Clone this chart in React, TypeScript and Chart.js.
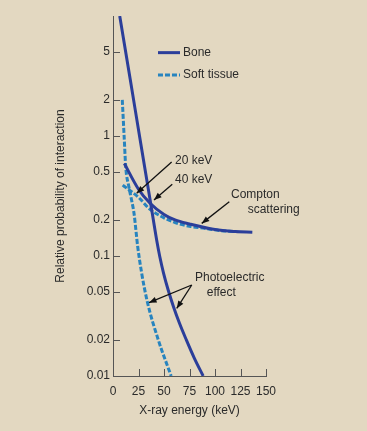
import React, { useEffect, useRef } from "react";
import { Chart, registerables } from "chart.js";
Chart.register(...registerables);

// ---- data ----
const boneEnergy = [6.6, 16.8, 26.0, 36.2, 42.8, 45.9, 49.6, 54.1, 59.3, 65.2, 71.9, 79.7, 88.4];
const bonePhoto = [10, 3, 1, 0.3, 0.136, 0.0986, 0.0718, 0.0521, 0.0378, 0.0275, 0.02, 0.0141, 0.01];
const softEnergy = [9.1, 10.9, 12.5, 15.5, 18.3, 20.6, 24.2, 28.1, 33.8, 44.4, 57.0];
const softPhoto = [2, 1, 0.55, 0.38, 0.29, 0.227, 0.12, 0.072, 0.041, 0.02, 0.01];
const boneComptonEnergy = [11.1, 25, 36.3, 50, 60.8, 75, 100, 120, 136.6];
const boneCompton = [0.59, 0.36, 0.275, 0.222, 0.2, 0.185, 0.166, 0.16, 0.158];
const softComptonEnergy = [9.5, 25, 36.3, 50, 60.8, 75, 90, 105, 118];
const softCompton = [0.39, 0.308, 0.245, 0.208, 0.19, 0.177, 0.17, 0.163, 0.16];

const yTickValues = [0.01, 0.02, 0.05, 0.1, 0.2, 0.5, 1, 2, 5];
const xTickValues = [0, 25, 50, 75, 100, 125, 150];
const seriesNames = ["Bone", "Soft tissue"];
const xTitle = "X-ray energy (keV)";
const yTitle = "Relative probability of interaction";
const annotationTexts = ["20 keV", "40 keV", "Compton", "scattering", "Photoelectric", "effect"];

// ---- styles ----
const BG = "#e3d8c1";
const BONE = "#2b3e9a";
const SOFT = "#2784bf";
const TEXT = "#2a2a2a";
const AXIS = "#555";
const FONT = "'Liberation Sans', Arial, Helvetica, sans-serif";

// annotation placements in data coordinates [energy, value]
const textPlacements: { e: number; v: number; align: CanvasTextAlign }[] = [
  { e: 60.8, v: 0.622, align: "left" },
  { e: 60.8, v: 0.435, align: "left" },
  { e: 115.7, v: 0.322, align: "left" },
  { e: 183, v: 0.245, align: "right" },
  { e: 80.4, v: 0.0665, align: "left" },
  { e: 91.9, v: 0.0498, align: "left" },
];
const arrowPlacements = [
  [57.5, 0.607, 23.2, 0.333],
  [58.1, 0.396, 40.2, 0.293],
  [114, 0.2835, 87, 0.187],
  [77.2, 0.0573, 35.3, 0.0408],
  [77.2, 0.0573, 62.5, 0.0366],
];
const legendPlacements = [
  { e1: 44.1, e2: 65.7, et: 68.6, v: 4.95 },
  { e1: 44.1, e2: 65.7, et: 68.6, v: 3.22 },
];

function toXY(e: number[], v: number[]) {
  return e.map((x, i) => ({ x, y: v[i] }));
}

function drawArrow(ctx: CanvasRenderingContext2D, x1: number, y1: number, x2: number, y2: number) {
  ctx.beginPath();
  ctx.moveTo(x1, y1);
  ctx.lineTo(x2, y2);
  ctx.stroke();
  const a = Math.atan2(y2 - y1, x2 - x1);
  const L = 7.5, W = 3;
  ctx.beginPath();
  ctx.moveTo(x2, y2);
  ctx.lineTo(x2 - L * Math.cos(a) + W * Math.sin(a), y2 - L * Math.sin(a) - W * Math.cos(a));
  ctx.lineTo(x2 - L * Math.cos(a) - W * Math.sin(a), y2 - L * Math.sin(a) + W * Math.cos(a));
  ctx.closePath();
  ctx.fill();
}

const bgPlugin = {
  id: "bg",
  beforeDraw(chart: any) {
    const { ctx, width, height } = chart;
    ctx.save();
    ctx.fillStyle = BG;
    ctx.fillRect(0, 0, width, height);
    ctx.restore();
  },
};

const overlayPlugin = {
  id: "overlay",
  afterDraw(chart: any) {
    const { ctx, chartArea } = chart;
    const xs = chart.scales.x;
    const ys = chart.scales.y;
    ctx.save();
    // inward tick marks
    ctx.strokeStyle = AXIS;
    ctx.lineWidth = 1;
    ctx.beginPath();
    yTickValues.forEach((v) => {
      const y = Math.round(ys.getPixelForValue(v)) + 0.5;
      ctx.moveTo(chartArea.left, y);
      ctx.lineTo(chartArea.left + 7, y);
    });
    xTickValues.forEach((v) => {
      const x = Math.round(xs.getPixelForValue(v)) + 0.5;
      ctx.moveTo(x, chartArea.bottom);
      ctx.lineTo(x, chartArea.bottom - 7);
    });
    ctx.stroke();

    // legend
    ctx.font = `12px ${FONT}`;
    ctx.textBaseline = "middle";
    ctx.textAlign = "left";
    legendPlacements.forEach((p, i) => {
      const y = ys.getPixelForValue(p.v);
      ctx.beginPath();
      ctx.strokeStyle = i === 0 ? BONE : SOFT;
      ctx.lineWidth = 3;
      ctx.setLineDash(i === 0 ? [] : [5, 2]);
      ctx.moveTo(xs.getPixelForValue(p.e1), y);
      ctx.lineTo(xs.getPixelForValue(p.e2), y);
      ctx.stroke();
      ctx.setLineDash([]);
      ctx.fillStyle = TEXT;
      ctx.fillText(seriesNames[i], xs.getPixelForValue(p.et), y);
    });

    // annotation texts
    ctx.fillStyle = TEXT;
    textPlacements.forEach((p, i) => {
      ctx.textAlign = p.align;
      ctx.fillText(annotationTexts[i], xs.getPixelForValue(p.e), ys.getPixelForValue(p.v));
    });

    // arrows
    ctx.strokeStyle = "#111";
    ctx.fillStyle = "#111";
    ctx.lineWidth = 1.3;
    arrowPlacements.forEach((a) => {
      drawArrow(
        ctx,
        xs.getPixelForValue(a[0]),
        ys.getPixelForValue(a[1]),
        xs.getPixelForValue(a[2]),
        ys.getPixelForValue(a[3])
      );
    });
    ctx.restore();
  },
};

export default function App() {
  const ref = useRef<HTMLCanvasElement | null>(null);
  useEffect(() => {
    document.body.style.margin = "0";
    document.body.style.background = BG;
    if (!ref.current) return;
    Chart.defaults.font.family = FONT;
    const lineBase = {
      pointRadius: 0,
      borderWidth: 3,
      fill: false,
      cubicInterpolationMode: "monotone" as const,
    };
    const chart = new Chart(ref.current, {
      type: "line",
      data: {
        datasets: [
          { ...lineBase, label: "Bone photoelectric", data: toXY(boneEnergy, bonePhoto), borderColor: BONE },
          { ...lineBase, label: "Bone Compton", data: toXY(boneComptonEnergy, boneCompton), borderColor: BONE },
          { ...lineBase, label: "Soft photoelectric", data: toXY(softEnergy, softPhoto), borderColor: SOFT, borderDash: [5, 2] },
          { ...lineBase, label: "Soft Compton", data: toXY(softComptonEnergy, softCompton), borderColor: SOFT, borderDash: [5, 2] },
        ],
      },
      options: {
        animation: false,
        responsive: false,
        events: [],
        layout: { padding: { top: 16, right: 101, left: 0, bottom: 0 } },
        plugins: { legend: { display: false }, tooltip: { enabled: false } },
        scales: {
          x: {
            type: "linear",
            min: 0,
            max: 150,
            afterBuildTicks: (s: any) => {
              s.ticks = xTickValues.map((v) => ({ value: v }));
            },
            afterFit: (s: any) => {
              s.height = 55;
            },
            ticks: { color: TEXT, font: { size: 12 }, padding: 8, autoSkip: false, maxRotation: 0 },
            grid: { display: true, drawOnChartArea: false, drawTicks: false },
            border: { display: true, color: AXIS, width: 1 },
            title: { display: true, text: xTitle, color: TEXT, font: { size: 12 }, padding: { top: 0, bottom: 12.8 } },
          },
          y: {
            type: "logarithmic",
            min: 0.01,
            max: 10,
            afterBuildTicks: (s: any) => {
              s.ticks = yTickValues.map((v) => ({ value: v }));
            },
            afterFit: (s: any) => {
              s.width = 113;
            },
            ticks: {
              color: TEXT,
              font: { size: 12 },
              padding: 3,
              autoSkip: false,
              callback: (v: any) => String(v),
            },
            grid: { display: true, drawOnChartArea: false, drawTicks: false },
            border: { display: true, color: AXIS, width: 1 },
            title: { display: true, text: yTitle, color: TEXT, font: { size: 12 }, padding: { top: 53.5, bottom: 0 } },
          },
        },
      },
      plugins: [bgPlugin, overlayPlugin],
    } as any);
    return () => chart.destroy();
  }, []);
  return (
    <div style={{ width: 367, height: 431, background: BG }}>
      <canvas ref={ref} width={367} height={431} style={{ display: "block" }} />
    </div>
  );
}
